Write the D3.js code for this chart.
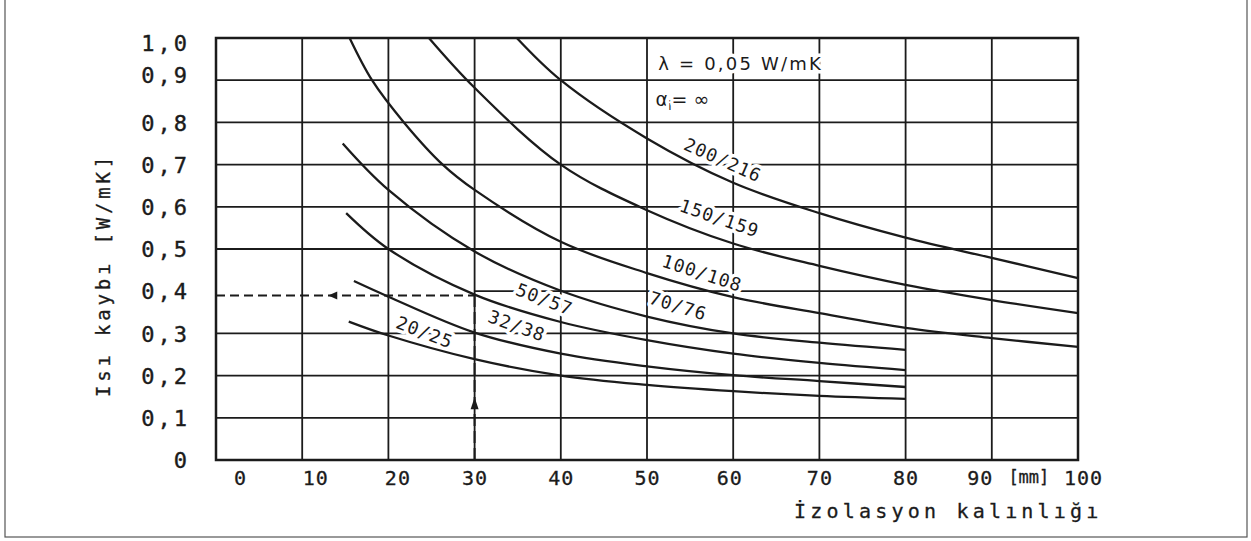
<!DOCTYPE html>
<html>
<head>
<meta charset="utf-8">
<script src="https://cdn.jsdelivr.net/npm/d3@7"></script>
<style>
  html, body { margin: 0; padding: 0; background: #fff; }
  svg { display: block; }
</style>
</head>
<body>
<svg id="chart" width="1251" height="541"></svg>
<script>
// ---------- data ----------
const xTicks = [0, 10, 20, 30, 40, 50, 60, 70, 80, 90, 100];
const yTicks = [0, 0.1, 0.2, 0.3, 0.4, 0.5, 0.6, 0.7, 0.8, 0.9, 1.0];

const pipe20_25  = [[15.4,0.328],[20,0.295],[30,0.239],[40,0.200],[50,0.178],[60,0.163],[70,0.152],[80,0.145]];
const pipe32_38  = [[16.0,0.424],[20,0.387],[30,0.302],[40,0.252],[50,0.222],[60,0.201],[70,0.187],[80,0.173]];
const pipe50_57  = [[15.1,0.585],[20,0.500],[30,0.392],[40,0.327],[50,0.284],[60,0.252],[70,0.230],[80,0.213]];
const pipe70_76  = [[14.7,0.750],[20,0.640],[30,0.494],[40,0.401],[50,0.340],[60,0.300],[70,0.278],[80,0.261]];
const pipe100_108 = [[15.5,1.000],[18.1,0.900],[21.8,0.800],[26.3,0.700],[30,0.640],[40,0.517],[50,0.443],[60,0.386],[70,0.348],[80,0.313],[90,0.289],[100,0.268]];
const pipe150_159 = [[24.7,1.000],[30,0.882],[40,0.700],[50,0.592],[60,0.513],[70,0.460],[80,0.415],[90,0.379],[100,0.348]];
const pipe200_216 = [[34.9,1.000],[40,0.900],[50,0.762],[60,0.657],[70,0.585],[80,0.527],[90,0.479],[100,0.431]];

const seriesNames  = ["20/25", "32/38", "50/57", "70/76", "100/108", "150/159", "200/216"];
const seriesValues = [pipe20_25, pipe32_38, pipe50_57, pipe70_76, pipe100_108, pipe150_159, pipe200_216];
// label anchor (data coords) for each series label
const labelAnchorX = [24.2, 34.9, 38.1, 53.6, 56.4, 58.4, 58.8];
const labelAnchorY = [0.303, 0.318, 0.381, 0.365, 0.443, 0.573, 0.711];
const labelAngle   = [21, 20, 21, 17, 18, 19, 24];

// worked example (dashed reading lines)
const exampleThickness = 30;
const exampleLoss = 0.39;

const yTitle = "Isı kaybı [W/mK]";
const xTitle = "İzolasyon kalınlığı";
const xUnit = "[mm]";
const noteLambda = "λ = 0,05 W/mK";

// ---------- drawing ----------
const svg = d3.select("#chart");
const ink = "#1b1b1b";
const x = d3.scaleLinear().domain([0, 100]).range([216, 1078]);
const y = d3.scaleLinear().domain([0, 1]).range([460, 38]);

// outer frame of the picture
svg.append("rect").attr("x", 5).attr("y", -5).attr("width", 1242).attr("height", 542)
  .attr("fill", "none").attr("stroke", "#555").attr("stroke-width", 1.2);

// grid
const grid = svg.append("g");
grid.selectAll("line.v").data(xTicks.slice(1, -1)).join("line")
  .attr("x1", d => x(d)).attr("x2", d => x(d))
  .attr("y1", y(1)).attr("y2", y(0))
  .attr("stroke", ink).attr("stroke-width", 1.8);
grid.selectAll("line.h").data(yTicks.slice(1, -1)).join("line")
  .attr("x1", d => d === 0.4 ? x(exampleThickness) : x(0)).attr("x2", x(100))
  .attr("y1", d => y(d)).attr("y2", d => y(d))
  .attr("stroke", ink).attr("stroke-width", 1.8);

// frame
svg.append("rect").attr("x", x(0)).attr("y", y(1))
  .attr("width", x(100) - x(0)).attr("height", y(0) - y(1))
  .attr("fill", "none").attr("stroke", ink).attr("stroke-width", 2.5);

// annotation texts (with halo that breaks the grid like in the drawing)
const halo = sel => sel.attr("stroke", "#fff").attr("stroke-width", 7)
  .attr("paint-order", "stroke").attr("stroke-linejoin", "round");

svg.append("text").attr("x", x(51.3)).attr("y", y(0.925))
  .attr("font-family", "DejaVu Sans").attr("font-size", 18).attr("letter-spacing", 2.2)
  .attr("fill", ink).text(noteLambda).call(halo);

const alpha = svg.append("text").attr("x", x(51.0)).attr("y", y(0.838))
  .attr("font-family", "DejaVu Sans").attr("font-size", 19).attr("fill", ink).call(halo);
alpha.append("tspan").text("α");
alpha.append("tspan").attr("font-size", 12).attr("dy", 4).text("i");
alpha.append("tspan").attr("dy", -4).text("= ∞");

// series labels
svg.append("g").selectAll("text").data(seriesNames).join("text")
  .attr("transform", (d, i) => `translate(${x(labelAnchorX[i])},${y(labelAnchorY[i])}) rotate(${labelAngle[i]})`)
  .attr("text-anchor", "middle").attr("dy", "0.35em")
  .attr("font-family", "DejaVu Sans Mono").attr("font-size", 18).attr("letter-spacing", 1)
  .attr("fill", ink).text(d => d).call(halo);

// curves
const line = d3.line().x(d => x(d[0])).y(d => y(d[1])).curve(d3.curveCatmullRom.alpha(0.5));
svg.append("g").selectAll("path").data(seriesValues).join("path")
  .attr("d", line).attr("fill", "none").attr("stroke", ink).attr("stroke-width", 2.3);

// example dashed reading lines
const ex = svg.append("g").attr("stroke", ink).attr("stroke-width", 2).attr("fill", "none");
ex.append("line").attr("x1", x(0)).attr("x2", x(exampleThickness))
  .attr("y1", y(exampleLoss)).attr("y2", y(exampleLoss)).attr("stroke-dasharray", "9,5");
ex.append("line").attr("x1", x(exampleThickness)).attr("x2", x(exampleThickness))
  .attr("y1", y(0)).attr("y2", y(exampleLoss)).attr("stroke-dasharray", "12,5");
// arrow heads
const ax = x(13.6), ay = y(exampleLoss);
svg.append("path").attr("d", `M${ax - 5},${ay} L${ax + 4},${ay - 4} L${ax + 4},${ay + 4} Z`).attr("fill", ink);
const bx = x(exampleThickness), by = y(0.13);
svg.append("path").attr("d", `M${bx},${by - 8} L${bx + 4},${by + 4} L${bx - 4},${by + 4} Z`).attr("fill", ink);

// axes labels
const fmt = d => d === 0 ? "0" : d3.format(".1f")(d).replace(".", ",");
const yAxis = svg.append("g").attr("transform", `translate(${x(0)},0)`)
  .call(d3.axisLeft(y).tickValues(yTicks).tickFormat(fmt).tickSize(0).tickPadding(26));
yAxis.select(".domain").remove();
yAxis.selectAll("text").attr("font-family", "DejaVu Sans Mono").attr("font-size", 22)
  .attr("letter-spacing", 3).attr("fill", ink).attr("stroke", ink).attr("stroke-width", 0.4)
  .attr("dy", d => d === 1 ? "0.55em" : d === 0.9 ? "0.1em" : "0.35em");

const xShift = d => d === 0 ? 24 : d === 10 ? 13 : d === 20 ? 9 : d === 60 ? -4 : d === 90 ? -12 : d === 100 ? 5 : 0;
const xAxis = svg.append("g").attr("transform", `translate(0,${y(0)})`)
  .call(d3.axisBottom(x).tickValues(xTicks).tickFormat(d3.format("d")).tickSize(0).tickPadding(11));
xAxis.select(".domain").remove();
xAxis.selectAll("text").attr("font-family", "DejaVu Sans Mono").attr("font-size", 20)
  .attr("letter-spacing", 1).attr("fill", ink).attr("stroke", ink).attr("stroke-width", 0.3)
  .attr("dx", d => xShift(d));

svg.append("text").attr("x", x(94.3)).attr("y", y(0) + 11).attr("dy", "0.71em")
  .attr("text-anchor", "middle").attr("font-family", "DejaVu Sans Mono").attr("font-size", 17)
  .attr("fill", ink).attr("stroke", ink).attr("stroke-width", 0.3).text(xUnit);

// axis titles
svg.append("text").attr("transform", "translate(110,275) rotate(-90)")
  .attr("text-anchor", "middle").attr("font-family", "DejaVu Sans Mono").attr("font-size", 19)
  .attr("letter-spacing", 3.8).attr("fill", ink).attr("stroke", ink).attr("stroke-width", 0.3)
  .text(yTitle);

svg.append("text").attr("x", 794).attr("y", 518)
  .attr("font-family", "DejaVu Sans Mono").attr("font-size", 20)
  .attr("letter-spacing", 4.2).attr("fill", ink).attr("stroke", ink).attr("stroke-width", 0.3)
  .text(xTitle);
</script>
</body>
</html>
